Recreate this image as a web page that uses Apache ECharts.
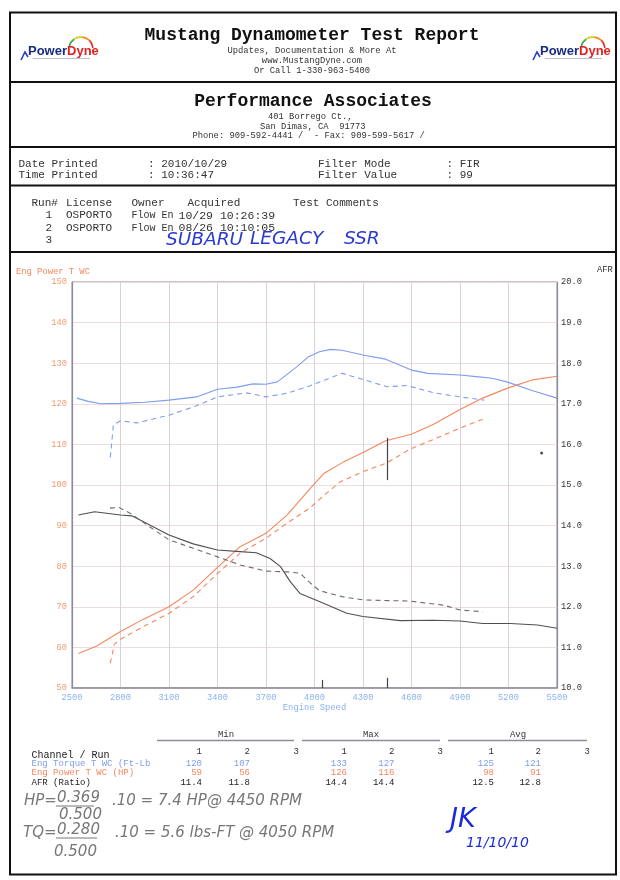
<!DOCTYPE html>
<html><head><meta charset="utf-8">
<script src="https://cdn.jsdelivr.net/npm/echarts/dist/echarts.min.js"></script>
<style>html,body{margin:0;padding:0;background:#fff}#c{width:620px;height:880px}</style>
</head><body><div id="c"></div>
<script>
// ---- data (rpm, value) read from the dyno sheet ----
const torqueRun1 = [[2530,121.4],[2600,120.6],[2680,120.0],[2800,120.1],[2950,120.4],[3100,120.9],[3270,121.7],[3400,123.6],[3520,124.1],[3620,124.9],[3700,124.8],[3770,125.4],[3890,129.1],[3960,131.5],[4030,132.8],[4100,133.4],[4170,133.2],[4300,132.0],[4440,131.0],[4600,128.3],[4700,127.5],[4900,127.1],[5000,126.7],[5100,126.3],[5190,125.4],[5350,123.2],[5500,121.4]];
const torqueRun2 = [[2737,106.8],[2756,114.8],[2800,115.8],[2900,115.3],[3100,117.2],[3270,119.5],[3400,121.7],[3580,122.7],[3700,121.7],[3830,122.6],[3970,124.4],[4060,125.8],[4170,127.5],[4300,126.0],[4450,124.2],[4570,124.5],[4740,122.7],[4900,121.7],[5050,120.9]];
const powerRun1 = [[2540,58.5],[2650,60.3],[2800,63.9],[2940,66.9],[3100,70.0],[3250,74.1],[3400,79.7],[3540,84.8],[3700,88.1],[3830,92.6],[3970,99.0],[4060,102.9],[4180,105.7],[4300,108.0],[4440,110.9],[4600,112.5],[4740,115.0],[4900,118.6],[5040,121.4],[5190,123.8],[5350,125.9],[5500,126.8]];
const powerRun2 = [[2737,56.1],[2762,60.8],[2800,62.0],[2940,65.1],[3100,68.4],[3250,72.5],[3400,78.2],[3540,83.2],[3700,86.9],[3830,90.6],[3970,94.3],[4060,97.5],[4160,100.8],[4300,103.3],[4440,105.3],[4590,108.8],[4740,111.3],[4900,114.0],[5040,116.2]];
const afrRun1 = [[2540,14.26],[2640,14.34],[2800,14.26],[2870,14.24],[2960,14.06],[3100,13.77],[3250,13.55],[3400,13.40],[3540,13.36],[3640,13.33],[3725,13.19],[3790,12.99],[3850,12.62],[3910,12.33],[4030,12.13],[4200,11.84],[4300,11.76],[4530,11.66],[4740,11.67],[4900,11.65],[5040,11.59],[5210,11.59],[5380,11.55],[5500,11.47]];
const afrRun2 = [[2735,14.43],[2790,14.45],[2870,14.28],[2980,13.97],[3100,13.65],[3250,13.44],[3400,13.23],[3540,13.03],[3700,12.88],[3830,12.86],[3910,12.83],[3970,12.60],[4030,12.40],[4170,12.25],[4300,12.17],[4590,12.14],[4800,12.04],[4900,11.92],[5040,11.88]];
const hpCursor = [[4450,111.6],[4450,101.2]];
const axisMarks = [[4050,50],[4050,52],[4450,50],[4450,52.5]];
const strayDot = [[5405,107.9]];

const statHeaders = ['Min','Max','Avg'];
const runNumbers = ['1','2','3'];
const channelNames = ['Eng Torque T WC (Ft-Lb','Eng Power T WC (HP)','AFR (Ratio)'];
const minVals = [['120','107',''],['59','56',''],['11.4','11.8','']];
const maxVals = [['133','127',''],['126','116',''],['14.4','14.4','']];
const avgVals = [['125','121',''],['98','91',''],['12.5','12.8','']];

// ---- styling ----
const MONO = '"Liberation Mono","DejaVu Sans Mono",monospace';
const ORANGE = '#f5875e', BLUE = '#7f9cf0', DARK = '#505050';
const chart = echarts.init(document.getElementById('c'), null, {renderer:'canvas'});

const g = [];
function T(x, y, text, font, fill, align) {
  g.push({type:'text', silent:true, z:10, style:{x, y, text, font, fill: fill||'#222', textAlign: align||'left', textVerticalAlign:'middle'}});
}
function L(x1, y1, x2, y2, stroke, w) {
  g.push({type:'line', silent:true, z:10, shape:{x1,y1,x2,y2}, style:{stroke: stroke||'#111', lineWidth: w||1.5}});
}
// page frame and section separators
g.push({type:'rect', silent:true, z:10, shape:{x:10, y:12.5, width:606, height:862}, style:{fill:'none', stroke:'#111', lineWidth:2}});
L(10,82,616,82,'#111',2); L(10,147,616,147,'#111',2); L(10,185.5,616,185.5,'#111',2); L(10,252,616,252,'#111',2);

// logos
function logo(x0) {
  const cols = ['#3fb040','#d8d030','#f09020','#e8302a'];
  cols.forEach((c,i)=>g.push({type:'arc', silent:true, z:12, shape:{cx:x0+53, cy:49, r:12, startAngle:Math.PI*(1.08+i*0.2225), endAngle:Math.PI*(1.08+(i+1)*0.2225)},
    style:{stroke:c, lineWidth:1.8, fill:'none'}}));
  g.push({type:'polyline', silent:true, z:10, shape:{points:[[x0-7,60],[x0-3,52],[x0,57]]}, style:{stroke:'#2a40c0', lineWidth:1.6, fill:'none'}});
  g.push({type:'text', silent:true, z:11, style:{x:x0, y:51, text:'{a|Power}{b|Dyne}', textVerticalAlign:'middle',
    rich:{a:{fill:'#1a2a80', font:'bold 13px "Liberation Sans",Arial,sans-serif'}, b:{fill:'#e0221e', font:'bold 13px "Liberation Sans",Arial,sans-serif'}}}});
  L(x0+5,58.5,x0+62,58.5,'#c0c0cc',1);
}
logo(28); logo(540);

// header texts
T(312,35,'Mustang Dynamometer Test Report','bold 18px '+MONO,'#111','center');
T(312,51,'Updates, Documentation & More At','8.8px '+MONO,'#333','center');
T(312,61,'www.MustangDyne.com','8.8px '+MONO,'#333','center');
T(312,71,'Or Call 1-330-963-5400','8.8px '+MONO,'#333','center');
T(313,101.5,'Performance Associates','bold 18px '+MONO,'#111','center');
T(268,117,'401 Borrego Ct.,','8.8px '+MONO,'#333');
T(260,126.5,'San Dimas, CA  91773','8.8px '+MONO,'#333');
T(192.5,136,'Phone: 909-592-4441 /  - Fax: 909-599-5617 /','8.8px '+MONO,'#333');

const F11 = '11px '+MONO;
T(18.5,164,'Date Printed',F11,'#333'); T(148,164,': 2010/10/29',F11,'#333');
T(318,164,'Filter Mode',F11,'#333'); T(446.5,164,': FIR',F11,'#333');
T(18.5,175.5,'Time Printed',F11,'#333'); T(148,175.5,': 10:36:47',F11,'#333');
T(318,175.5,'Filter Value',F11,'#333'); T(446.5,175.5,': 99',F11,'#333');

const F10 = '10px '+MONO;
T(31.5,203,'Run#',F11,'#333'); T(66,203,'License',F11,'#333'); T(131.5,203,'Owner',F11,'#333');
T(187.5,203,'Acquired',F11,'#333'); T(293,203,'Test Comments',F11,'#333');
T(52,215.5,'1',F11,'#333','right'); T(66,215.5,'OSPORTO',F11,'#333'); T(131.5,215.5,'Flow En',F10,'#333'); T(178.5,215.5,'10/29 10:26:39','11.5px '+MONO,'#333');
T(52,228,'2',F11,'#333','right'); T(66,228,'OSPORTO',F11,'#333'); T(131.5,228,'Flow En',F10,'#333'); T(178.5,228,'08/26 10:10:05','11.5px '+MONO,'#333');
T(52,240.5,'3',F11,'#333','right');
const HB = 'italic 18.5px "DejaVu Sans",sans-serif', INK = '#2a3ad0';
T(166,240,'SUBARU',HB,INK); T(250,239,'LEGACY',HB,INK); T(344,239,'SSR',HB,INK);

// chart axis titles
T(16,272,'Eng Power T WC','8.8px '+MONO,ORANGE);
T(597,269.5,'AFR','8.8px '+MONO,'#333');

// statistics table
const F9 = '9px '+MONO;
const groupCenters = [226,371,518];
const groupUl = [[157,294],[302,440],[448,587]];
const colRights = [[202,250,299],[347,394.5,443],[494,541,590]];
statHeaders.forEach((h,i)=>{ T(groupCenters[i],735,h,F9,'#333','center'); L(groupUl[i][0],740.5,groupUl[i][1],740.5,'#8a8aa0',1.6); });
T(31.5,755.5,'Channel / Run',F10,'#222');
colRights.forEach(cols=>cols.forEach((x,j)=>T(x,752,runNumbers[j],F9,'#333','right')));
const rowY = [764,773,782.5];
const rowCol = [BLUE, ORANGE, '#222'];
channelNames.forEach((n,i)=>T(31.5,rowY[i],n,F9,rowCol[i]));
[minVals,maxVals,avgVals].forEach((vals,gi)=>vals.forEach((row,ri)=>row.forEach((v,ci)=>{ if(v) T(colRights[gi][ci],rowY[ri],v,F9,rowCol[ri],'right'); })));

// handwritten notes
const HW = 'italic 300 15px "DejaVu Sans",sans-serif', PEN = '#777';
T(24,801,'HP=',HW,PEN); T(57,798,'0.369',HW,PEN); L(56,806,94,806,PEN,1); T(59,815,'0.500',HW,PEN);
T(112,801,'.10 = 7.4 HP@ 4450 RPM',HW,PEN);
T(23,833,'TQ=',HW,PEN); T(57,830,'0.280',HW,PEN); L(56,838,97,838,PEN,1); T(54,852,'0.500',HW,PEN);
T(115,833,'.10 = 5.6 lbs-FT @ 4050 RPM',HW,PEN);
T(450,820,'JK','italic 27px "DejaVu Sans",sans-serif','#1a2ad8');
T(466,843,'11/10/10','italic 14px "DejaVu Sans",sans-serif','#1a2ad8');

function line(name, data, color, dashed, yIdx, extra) {
  return Object.assign({name, type:'line', data, yAxisIndex:yIdx, symbol:'none', showSymbol:false, animation:false, z:3,
    lineStyle:{color, width:1.1, type: dashed ? [5,4] : 'solid'}, itemStyle:{color}}, extra||{});
}

const option = {
  animation:false,
  backgroundColor:'#fff',
  textStyle:{fontFamily:MONO},
  grid:{left:72, top:282, width:485, height:406, show:true, borderColor:'#8a8a9a', borderWidth:1, containLabel:false, outerBoundsMode:'none'},
  xAxis:{type:'value', min:2500, max:5500, interval:300, name:'Engine Speed', nameLocation:'middle', nameGap:13,
    nameTextStyle:{color:'#8ab2ee', fontSize:8.8, fontFamily:MONO},
    axisLine:{show:true, lineStyle:{color:'#8a8a9a', width:1.5}}, axisTick:{show:false},
    axisLabel:{color:'#8ab2ee', fontSize:8.7, fontFamily:MONO, margin:5, formatter:v=>String(v)},
    splitLine:{show:true, lineStyle:{color:'#d6d2de', width:1}}},
  yAxis:[
    {type:'value', min:50, max:150, interval:10, position:'left',
     axisLine:{show:true, lineStyle:{color:'#8a8a9a', width:1.2}}, axisTick:{show:false},
     axisLabel:{color:'#f59a70', fontSize:8.7, fontFamily:MONO, margin:5, formatter:v=>String(v)},
     splitLine:{show:true, lineStyle:{color:'#f0dcdc', width:1}}},
    {type:'value', min:10, max:20, interval:1, position:'right',
     axisLine:{show:true, lineStyle:{color:'#8a8a9a', width:1.2}}, axisTick:{show:false},
     axisLabel:{color:'#333', fontSize:8.7, fontFamily:MONO, margin:4, formatter:v=>v.toFixed(1)},
     splitLine:{show:false}}
  ],
  series:[
    line('Eng Torque T WC Run 1', torqueRun1, BLUE, false, 0),
    line('Eng Torque T WC Run 2', torqueRun2, BLUE, true, 0),
    line('Eng Power T WC Run 1', powerRun1, ORANGE, false, 0, {
      markLine:{silent:true, symbol:'none', animation:false, label:{show:false}, lineStyle:{color:'#444', width:1.2, type:'solid'},
        data:[[{coord:hpCursor[0]},{coord:hpCursor[1]}],
              [{coord:axisMarks[0]},{coord:axisMarks[1]}],
              [{coord:axisMarks[2]},{coord:axisMarks[3]}]]}}),
    line('Eng Power T WC Run 2', powerRun2, ORANGE, true, 0),
    line('AFR Run 1', afrRun1, DARK, false, 1),
    line('AFR Run 2', afrRun2, '#6a6a6a', true, 1),
    {type:'scatter', data:strayDot, symbolSize:3, itemStyle:{color:'#222'}, animation:false, silent:true}
  ],
  graphic:{elements:g}
};
chart.setOption(option);
</script></body></html>
